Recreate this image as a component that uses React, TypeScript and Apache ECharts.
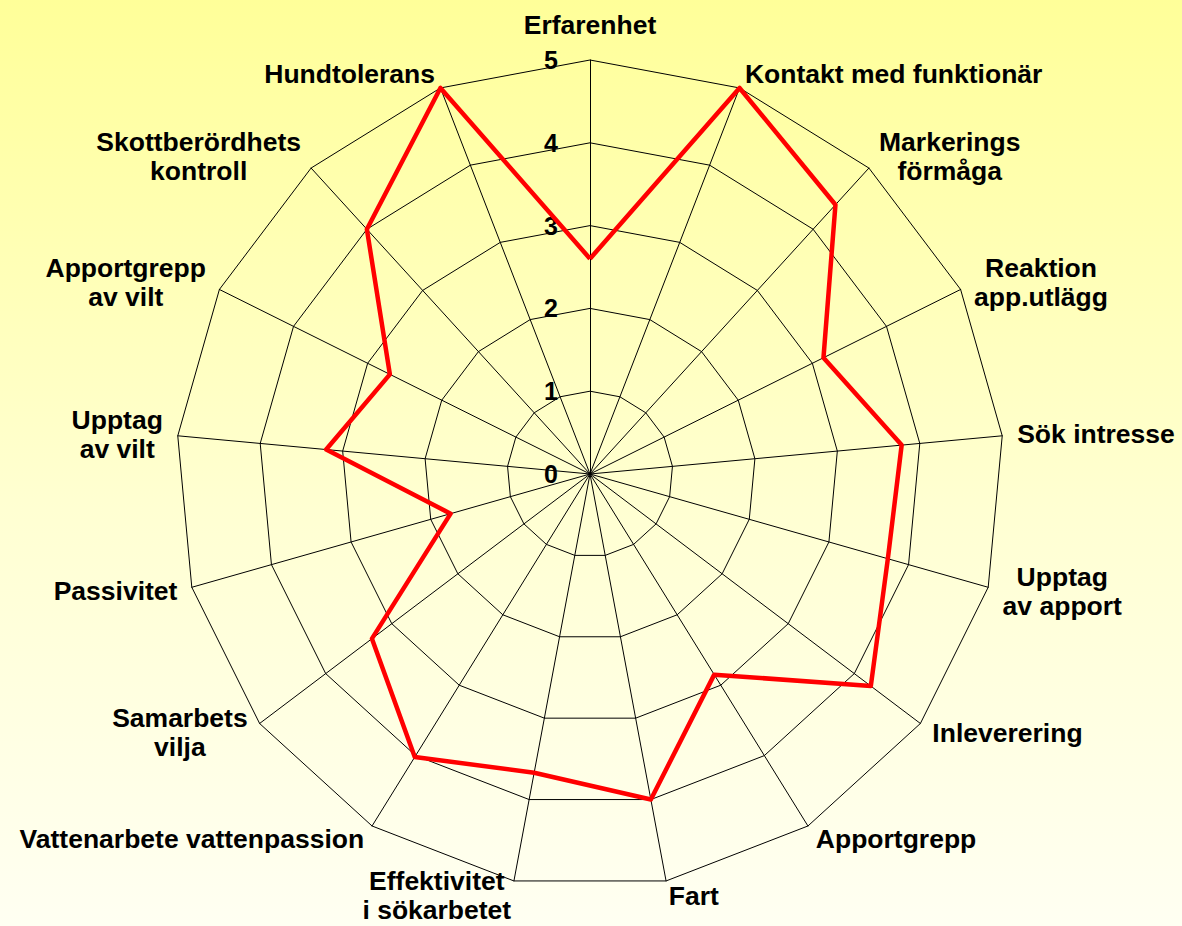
import React, { useEffect, useRef } from "react";
import * as echarts from "echarts";

// Categories in clockwise order starting from the top
const categories: string[] = [
  "Erfarenhet",
  "Kontakt med funktionär",
  "Markerings\nförmåga",
  "Reaktion\napp.utlägg",
  "Sök intresse",
  "Upptag\nav apport",
  "Inleverering",
  "Apportgrepp",
  "Fart",
  "Effektivitet\ni sökarbetet",
  "Vattenarbete vattenpassion",
  "Samarbets\nvilja",
  "Passivitet",
  "Upptag\nav vilt",
  "Apportgrepp\nav vilt",
  "Skottberördhets\nkontroll",
  "Hundtolerans",
];

const values: number[] = [
  2.6, 5, 4.4, 3.15, 3.78, 3.74, 4.25, 2.85, 4.0, 3.67, 4.02, 3.3, 1.75, 3.2, 2.7,
  4.0, 5,
];

const tickLabels: number[] = [0, 1, 2, 3, 4, 5];
const axisMax = 5;

const FONT = "'Liberation Sans', Arial, Helvetica, sans-serif";

export default function App() {
  const ref = useRef<HTMLDivElement>(null);

  useEffect(() => {
    if (!ref.current) return;
    const chart = echarts.init(ref.current, null, { renderer: "svg" });

    // ECharts radar runs counter-clockwise; reverse everything after the first item
    const order = [0, ...categories.map((_, i) => i).slice(1).reverse()];

    const indicator = order.map((i, k) => {
      const ind: any = { name: categories[i], min: 0, max: axisMax };
      if (k === 0) {
        ind.nameGap = 21;
        ind.axisLabel = {
          show: true,
          margin: 32,
          color: "#000",
          fontSize: 25,
          fontWeight: "bold",
          fontFamily: FONT,
          formatter: (v: number) =>
            tickLabels.includes(v) ? String(v) : "",
        };
      }
      return ind;
    });

    const option: any = {
      animation: false,
      backgroundColor: {
        type: "linear",
        x: 0,
        y: 0,
        x2: 0,
        y2: 1,
        colorStops: [
          { offset: 0, color: "#FFFF99" },
          { offset: 0.55, color: "#FFFFD2" },
          { offset: 1, color: "#FFFFF2" },
        ],
      },
      radar: {
        center: [590, 474],
        radius: 414,
        startAngle: 90,
        shape: "polygon",
        splitNumber: tickLabels.length - 1,
        nameGap: 15,
        axisName: {
          color: "#000",
          fontSize: 26.5,
          fontWeight: "bold",
          fontFamily: FONT,
          formatter: (name: string) =>
            name
              .split("\n")
              .map((l) => `{c|${l}}`)
              .join("\n"),
          rich: {
            c: {
              align: "center",
              color: "#000",
              fontSize: 26.5,
              fontWeight: "bold",
              fontFamily: FONT,
              lineHeight: 29,
            },
          },
        },
        axisLine: { show: true, lineStyle: { color: "#000", width: 1 } },
        axisTick: { show: false },
        axisLabel: { show: false },
        splitLine: { show: true, lineStyle: { color: "#000", width: 1 } },
        splitArea: { show: false },
        indicator,
      },
      series: [
        {
          type: "radar",
          symbol: "none",
          lineStyle: { color: "#FF0000", width: 4.5 },
          itemStyle: { color: "#FF0000" },
          data: [{ value: order.map((i) => values[i]) }],
        },
      ],
    };

    chart.setOption(option);
    return () => chart.dispose();
  }, []);

  return (
    <div
      ref={ref}
      style={{ position: "fixed", left: 0, top: 0, width: 1182, height: 926 }}
    />
  );
}
